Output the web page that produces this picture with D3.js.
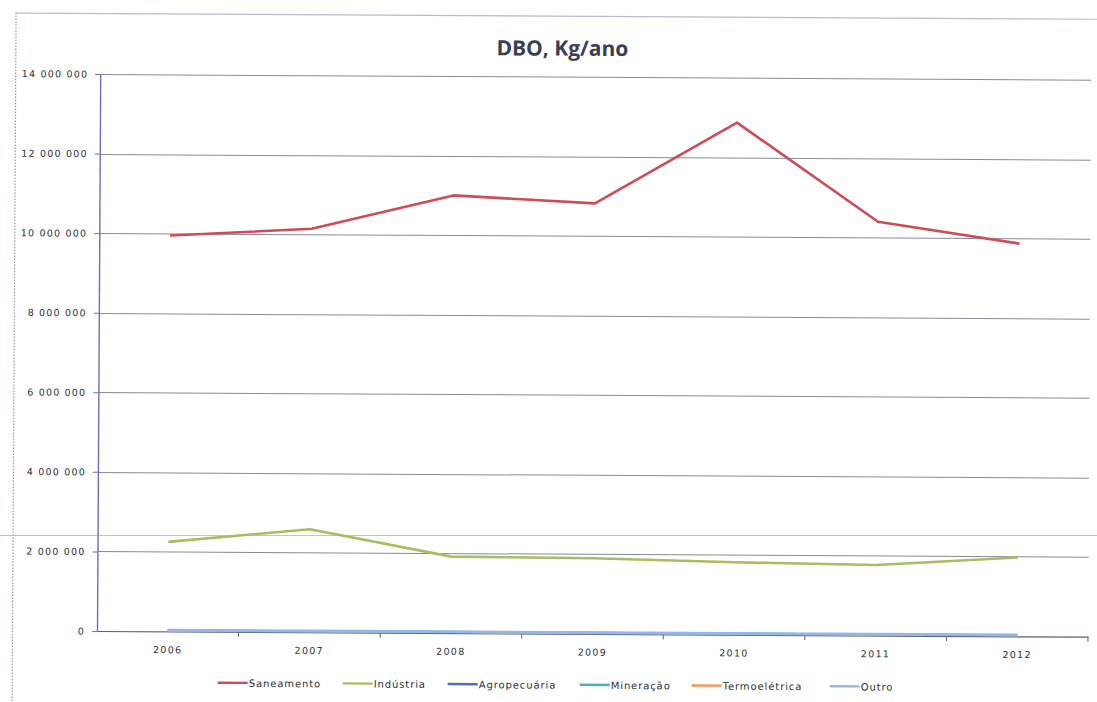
<!DOCTYPE html>
<html>
<head>
<meta charset="utf-8">
<script src="https://cdn.jsdelivr.net/npm/d3@7"></script>
<style>
  html, body { margin: 0; padding: 0; background: #fff; }
  svg { display: block; }
</style>
</head>
<body>
<svg id="chart" width="1097" height="702"></svg>
<script>
// Annual BOD load (kg/year) by source sector
const years = ["2006", "2007", "2008", "2009", "2010", "2011", "2012"];
const saneamento    = [9950000, 10140000, 11000000, 10820000, 12870000, 10400000, 9870000];
const industria     = [2250000, 2590000, 1920000, 1900000, 1820000, 1770000, 1980000];
const agropecuaria  = [25000, 25000, 25000, 25000, 25000, 25000, 25000];
const mineracao     = [25000, 25000, 25000, 25000, 25000, 25000, 25000];
const termoeletrica = [25000, 25000, 25000, 25000, 25000, 25000, 25000];
const outro         = [30000, 30000, 30000, 30000, 30000, 30000, 30000];
const yTicks = [0, 2000000, 4000000, 6000000, 8000000, 10000000, 12000000, 14000000];

const series = [
  { name: "Saneamento",    values: saneamento,    color: "#cf4b55", width: 2.6 },
  { name: "Indústria",     values: industria,     color: "#a5bf5e", width: 2.6 },
  { name: "Agropecuária",  values: agropecuaria,  color: "#4f6fb0", width: 2.0 },
  { name: "Mineração",     values: mineracao,     color: "#4bacc6", width: 2.0 },
  { name: "Termoelétrica", values: termoeletrica, color: "#f79646", width: 2.0 },
  { name: "Outro",         values: outro,         color: "#92b8e4", width: 3.0 }
];

const svg = d3.select("#chart");
const W = 1097, H = 702;
const plot = { left: 97, top: 74, width: 991, height: 557 };

// faint horizontal crease across the sheet
svg.append("line")
  .attr("x1", 0).attr("x2", W).attr("y1", 535.5).attr("y2", 535.5)
  .attr("stroke", "#c4c4c8").attr("stroke-width", 1);

// the whole sheet sits slightly tilted
const sheet = svg.append("g")
  .attr("transform", `rotate(0.33, ${plot.left}, ${plot.top + plot.height})`);

// chart frame: top edge and dotted left edge
sheet.append("line")
  .attr("x1", 13).attr("x2", W + 10).attr("y1", 13.5).attr("y2", 13.5)
  .attr("stroke", "#b8bccb").attr("stroke-width", 1.2);
sheet.append("line")
  .attr("x1", 12.5).attr("x2", 12.5).attr("y1", 13).attr("y2", H + 10)
  .attr("stroke", "#8f98c0").attr("stroke-width", 1.2)
  .attr("stroke-dasharray", "1.5,1.5");

const x = d3.scaleBand().domain(years).range([0, plot.width]).paddingInner(0).paddingOuter(0);
const y = d3.scaleLinear().domain([0, 14000000]).range([plot.height, 0]);

const g = sheet.append("g").attr("transform", `translate(${plot.left},${plot.top})`);

// horizontal gridlines
g.append("g").selectAll("line").data(yTicks.filter(d => d > 0)).join("line")
  .attr("x1", 0).attr("x2", plot.width)
  .attr("y1", d => Math.round(y(d)) + 0.5).attr("y2", d => Math.round(y(d)) + 0.5)
  .attr("stroke", "#8a8a94").attr("stroke-width", 1);

const fmt = d => d3.format(",")(d).replace(/,/g, " ");

// y axis
const yAxis = g.append("g")
  .call(d3.axisLeft(y).tickValues(yTicks).tickFormat(fmt).tickSize(5).tickSizeOuter(0).tickPadding(7));
yAxis.select(".domain").attr("stroke", "#6f6fb8").attr("stroke-width", 1.4);
yAxis.selectAll(".tick line").attr("stroke", "#6f6fb8");
yAxis.selectAll("text")
  .attr("font-family", "'DejaVu Sans', sans-serif")
  .attr("font-size", 9.5).attr("letter-spacing", 1.2)
  .attr("fill", "#2e2e38");

// x axis, ticks between categories
const xAxis = g.append("g").attr("transform", `translate(0,${plot.height})`)
  .call(d3.axisBottom(x).tickSize(0).tickPadding(15));
xAxis.select(".domain").attr("stroke", "#5c5c80").attr("stroke-width", 1.2);
xAxis.selectAll("text")
  .attr("font-family", "'DejaVu Sans', sans-serif")
  .attr("font-size", 9.5).attr("letter-spacing", 1.3)
  .attr("fill", "#2e2e38");
g.append("g").selectAll("line").data(years).join("line")
  .attr("x1", (d, i) => x.step() * (i + 1)).attr("x2", (d, i) => x.step() * (i + 1))
  .attr("y1", plot.height).attr("y2", plot.height + 5)
  .attr("stroke", "#5c5c80").attr("stroke-width", 1);

// series lines
const line = d3.line()
  .x((d, i) => x(years[i]) + x.bandwidth() / 2)
  .y(d => y(d));
g.append("g").selectAll("path").data(series).join("path")
  .attr("d", s => line(s.values))
  .attr("fill", "none")
  .attr("stroke", s => s.color)
  .attr("stroke-width", s => s.width)
  .attr("stroke-linejoin", "round");

// title
sheet.append("text")
  .attr("x", 559).attr("y", 53)
  .attr("text-anchor", "middle")
  .attr("font-family", "'Open Sans', sans-serif")
  .attr("font-weight", "bold")
  .attr("font-size", 21)
  .attr("fill", "#3b3d55")
  .text("DBO, Kg/ano");

// legend
const legendX = [218, 343, 448, 580, 692, 830];
const legend = sheet.append("g").attr("transform", "translate(0,682)");
const item = legend.selectAll("g").data(series).join("g")
  .attr("transform", (d, i) => `translate(${legendX[i]},0)`);
item.append("line")
  .attr("x1", 0).attr("x2", 30).attr("y1", 0).attr("y2", 0)
  .attr("stroke", d => d.color).attr("stroke-width", 2.4);
item.append("text")
  .attr("x", 31).attr("y", 4)
  .attr("font-family", "'DejaVu Sans', sans-serif")
  .attr("font-size", 10).attr("letter-spacing", 0.9)
  .attr("fill", "#2e2e38")
  .text(d => d.name);
</script>
</body>
</html>
